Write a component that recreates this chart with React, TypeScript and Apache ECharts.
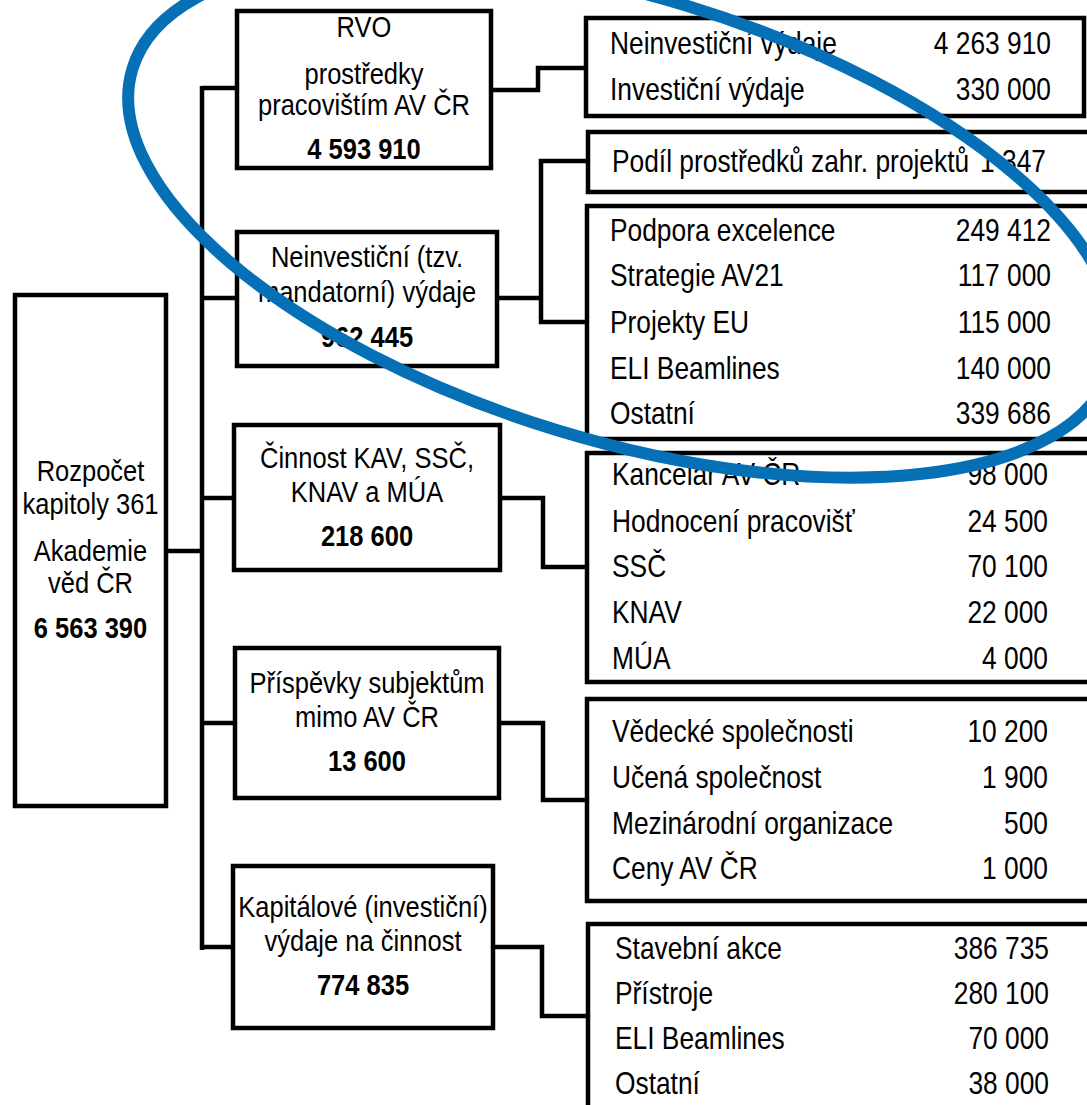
import React, { useEffect, useRef } from "react";
import * as echarts from "echarts";

// ---------- data ----------
const rootLabel = ["Rozpočet", "kapitoly 361", "Akademie", "věd ČR"];
const rootValue = 6563390;

const groupLabels = [
  ["RVO", "prostředky", "pracovištím AV ČR"],
  ["Neinvestiční (tzv.", "mandatorní) výdaje"],
  ["Činnost KAV, SSČ,", "KNAV a MÚA"],
  ["Příspěvky subjektům", "mimo AV ČR"],
  ["Kapitálové (investiční)", "výdaje na činnost"],
];
const groupValues = [4593910, 962445, 218600, 13600, 774835];

const rvoItems = ["Neinvestiční výdaje", "Investiční výdaje"];
const rvoValues = [4263910, 330000];

const podilItems = ["Podíl prostředků zahr. projektů"];
const podilValues = [1347];

const mandItems = ["Podpora excelence", "Strategie AV21", "Projekty EU", "ELI Beamlines", "Ostatní"];
const mandValues = [249412, 117000, 115000, 140000, 339686];

const kavItems = ["Kancelář AV ČR", "Hodnocení pracovišť", "SSČ", "KNAV", "MÚA"];
const kavValues = [98000, 24500, 70100, 22000, 4000];

const subjItems = ["Vědecké společnosti", "Učená společnost", "Mezinárodní organizace", "Ceny AV ČR"];
const subjValues = [10200, 1900, 500, 1000];

const kapItems = ["Stavební akce", "Přístroje", "ELI Beamlines", "Ostatní"];
const kapValues = [386735, 280100, 70000, 38000];

// ---------- layout ----------
const FONT = '"Liberation Sans", Arial, sans-serif';
const SX = 0.85;
const LW = 4.5;

const ROOT_BOX = { x: 15, y: 295, w: 151, h: 511, lines: [471, 504, 551, 583], value: 628 };

const GROUP_BOXES = [
  { x: 237, y: 11, w: 254, h: 157, lines: [27, 74, 105], value: 149 },
  { x: 237, y: 232, w: 260, h: 134, lines: [257, 292], value: 337 },
  { x: 234, y: 425, w: 266, h: 145, lines: [458, 492], value: 536 },
  { x: 235, y: 648, w: 264, h: 150, lines: [683, 717], value: 761 },
  { x: 233, y: 866, w: 260, h: 162, lines: [907, 941], value: 985 },
];

const DETAIL_BOXES = [
  { x: 586, y: 18, w: 498, h: 98, rows: [43, 89], labelX: 610, valueX: 1051, items: rvoItems, values: rvoValues },
  { x: 588, y: 132, w: 530, h: 60, rows: [161], labelX: 612, valueX: 1046, items: podilItems, values: podilValues },
  { x: 587, y: 206, w: 530, h: 233, rows: [230, 275, 322, 368, 413], labelX: 610, valueX: 1051, items: mandItems, values: mandValues },
  { x: 587, y: 453, w: 530, h: 229, rows: [474, 521, 566, 612, 658], labelX: 612, valueX: 1048, items: kavItems, values: kavValues },
  { x: 587, y: 699, w: 530, h: 202, rows: [731, 777, 823, 868], labelX: 612, valueX: 1048, items: subjItems, values: subjValues },
  { x: 588, y: 924, w: 530, h: 220, rows: [948, 993, 1038, 1083], labelX: 615, valueX: 1049, items: kapItems, values: kapValues },
];

const CONNECTORS: number[][][] = [
  [[166, 551], [202, 551]],
  [[202, 86], [202, 950]],
  [[202, 88], [237, 88]],
  [[202, 298], [237, 298]],
  [[202, 498], [234, 498]],
  [[202, 723], [235, 723]],
  [[202, 947], [233, 947]],
  [[491, 90], [538, 90], [538, 68], [586, 68]],
  [[497, 298], [541, 298]],
  [[588, 161], [541, 161], [541, 322], [587, 322]],
  [[500, 498], [543, 498], [543, 567], [587, 567]],
  [[499, 723], [543, 723], [543, 800], [587, 800]],
  [[493, 947], [542, 947], [542, 1016], [588, 1016]],
];

const fmt = (n: number) => String(n).replace(/\B(?=(\d{3})+(?!\d))/g, " ");

function txt(text: string, x: number, y: number, size: number, align: string, weight = "normal") {
  return {
    type: "text",
    x,
    y,
    scaleX: SX,
    z: 10,
    style: {
      text,
      fill: "#000",
      font: `${weight} ${size}px ${FONT}`,
      fontSize: size,
      fontFamily: FONT,
      fontWeight: weight,
      align,
      verticalAlign: "middle",
      textAlign: align,
      textVerticalAlign: "middle",
    },
  };
}

function box(b: { x: number; y: number; w: number; h: number }) {
  return {
    type: "rect",
    z: 5,
    shape: { x: b.x, y: b.y, width: b.w, height: b.h },
    style: { fill: "#fff", stroke: "#000", lineWidth: LW },
  };
}

export default function App() {
  const ref = useRef<HTMLDivElement>(null);
  useEffect(() => {
    if (!ref.current) return;
    const chart = echarts.init(ref.current, undefined, { renderer: "svg" });
    const elements: any[] = [];

    CONNECTORS.forEach((pts) =>
      elements.push({
        type: "polyline",
        z: 4,
        shape: { points: pts },
        style: { stroke: "#000", lineWidth: LW, fill: "none", lineJoin: "miter" },
      })
    );

    elements.push(box(ROOT_BOX));
    const rcx = ROOT_BOX.x + ROOT_BOX.w / 2;
    rootLabel.forEach((l, i) => elements.push(txt(l, rcx, ROOT_BOX.lines[i], 30, "center")));
    elements.push(txt(fmt(rootValue), rcx, ROOT_BOX.value, 30, "center", "bold"));

    GROUP_BOXES.forEach((b, gi) => {
      elements.push(box(b));
      const cx = b.x + b.w / 2;
      groupLabels[gi].forEach((l, i) => elements.push(txt(l, cx, b.lines[i], 30, "center")));
      elements.push(txt(fmt(groupValues[gi]), cx, b.value, 30, "center", "bold"));
    });

    DETAIL_BOXES.forEach((b) => {
      b.items.forEach((l, i) => {
        elements.push(txt(l, b.labelX, b.rows[i], 31, "left"));
        elements.push(txt(fmt(b.values[i]), b.valueX, b.rows[i], 31, "right"));
      });
      elements.push(box(b));
    });

    elements.push({
      type: "ellipse",
      z: 100,
      x: 622,
      y: 218,
      rotation: (-17 * Math.PI) / 180,
      shape: { cx: 0, cy: 0, rx: 512, ry: 222 },
      style: { fill: "none", stroke: "#0670b7", lineWidth: 12 },
    });

    chart.setOption({ animation: false, backgroundColor: "#fff", graphic: { elements } });
    return () => chart.dispose();
  }, []);
  return (
    <div
      ref={ref}
      style={{ position: "absolute", left: 0, top: 0, width: 1087, height: 1105, background: "#fff" }}
    />
  );
}
